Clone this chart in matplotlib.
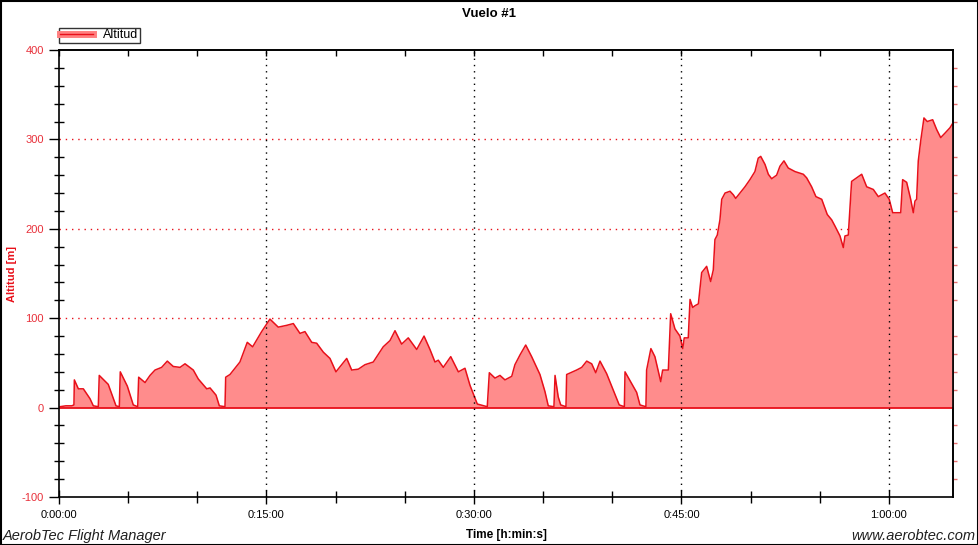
import matplotlib

matplotlib.use("Agg")
import matplotlib.pyplot as plt
from matplotlib.legend_handler import HandlerTuple
from matplotlib.lines import Line2D
from matplotlib.patches import Rectangle
from matplotlib.ticker import FuncFormatter, MultipleLocator

plt.rcParams["font.family"] = ["Liberation Sans", "DejaVu Sans"]
plt.rcParams["axes.unicode_minus"] = False

# --- datos: tiempo (minutos) y altitud (m) ---
t_min = [
    0.00, 0.07, 0.50, 0.92, 1.08, 1.11, 1.40, 1.76, 2.24, 2.48, 2.84,
    2.91, 3.56, 4.12, 4.36, 4.43, 4.94, 5.37, 5.69,
    5.76, 6.22, 6.58, 6.94, 7.42, 7.83, 8.26, 8.75, 9.11, 9.71, 10.07,
    10.68, 10.92, 11.35, 11.59, 12.00,
    12.05, 12.36, 13.08, 13.61, 14.00, 14.65, 15.25, 15.85, 16.46, 16.94,
    17.42, 17.78, 18.27, 18.63, 19.11, 19.59, 20.02, 20.44, 20.80, 21.16,
    21.64, 22.12, 22.72, 23.44, 23.93, 24.29, 24.77, 25.25, 25.86, 26.39,
    26.82, 27.18, 27.42, 27.78, 28.32, 28.87, 29.35, 29.71, 30.24, 30.96,
    31.11, 31.52, 31.88, 32.24, 32.73, 32.96, 33.33, 33.74, 34.17, 34.77,
    35.13, 35.37, 35.78,
    35.86, 36.09, 36.27, 36.65,
    36.70, 37.42, 37.79, 38.15, 38.51, 38.80, 39.11, 39.59, 40.03, 40.50,
    40.87,
    40.92, 41.40, 41.76, 42.00, 42.43,
    42.48, 42.79, 43.08, 43.50, 43.64, 44.05, 44.22, 44.53, 44.89, 45.09,
    45.20, 45.49, 45.62, 45.81, 45.98, 46.22, 46.46, 46.82, 47.11, 47.30,
    47.42, 47.59, 47.78, 47.91, 48.15, 48.51, 48.75, 48.92, 49.23, 49.59,
    49.95, 50.31, 50.55, 50.73, 51.04, 51.28, 51.52, 51.88, 52.12, 52.41,
    52.72, 53.21, 53.81, 54.05, 54.41, 54.72, 55.14, 55.54, 55.86, 56.10,
    56.46, 56.70, 56.82, 57.06, 57.30, 57.67, 58.03, 58.39, 58.87, 59.23,
    59.71, 60.02, 60.27, 60.85, 60.99, 61.28, 61.57, 61.76, 61.88, 62.00,
    62.12, 62.31, 62.53, 62.77, 63.16, 63.45, 63.74, 64.05, 64.41, 64.61,
]
alt_m = [
    0, 1, 2, 2, 3, 31, 21, 21, 10, 2, 1,
    36, 26, 2, 1, 40, 24, 3, 1,
    34, 28, 36, 42, 45, 52, 46, 45, 49, 42, 32,
    21, 22, 14, 2, 1,
    34, 37, 51, 73, 68, 85, 99, 90, 92, 94,
    83, 85, 73, 72, 62, 55, 40, 48, 55, 42,
    43, 48, 51, 68, 75, 86, 71, 78, 65, 80,
    65, 51, 53, 45, 57, 40, 44, 25, 4, 1,
    39, 33, 36, 31, 35, 48, 59, 70, 57, 37,
    18, 2, 1,
    36, 12, 3, 1,
    37, 42, 45, 52, 49, 39, 52, 38, 21, 3,
    1,
    40, 27, 17, 3, 1,
    42, 66, 57, 29, 42, 42, 105, 88, 80, 66,
    78, 78, 121, 112, 114, 116, 151, 158, 141, 154,
    188, 193, 210, 233, 240, 242, 238, 234, 240, 247,
    255, 264, 279, 281, 272, 261, 256, 260, 270, 276,
    268, 264, 261, 257, 247, 236, 233, 216, 210, 203,
    192, 179, 192, 193, 253, 257, 261, 247, 244, 236,
    240, 233, 218, 218, 255, 252, 233, 218, 231, 233,
    276, 300, 324, 320, 322, 311, 302, 307, 313, 318,
]

y_ticks = [-100, 0, 100, 200, 300, 400]
x_ticks = [0, 15, 30, 45, 60]

RED = "#e8101a"
FILL = "#ff8c8c"
LABEL_RED = "#e8303a"


def hms(x, pos=None):
    s = int(round(x * 60))
    return f"{s // 3600}:{(s % 3600) // 60:02d}:{s % 60:02d}"


fig = plt.figure(figsize=(9.79, 5.45), dpi=100)
ax = fig.add_axes([59 / 979, 48 / 545, 894 / 979, 447 / 545])

ax.fill_between(t_min, alt_m, 0, color=FILL, lw=0, zorder=2)
ax.plot(t_min, alt_m, color=RED, lw=1.1, zorder=3)
ax.axhline(0, color=RED, lw=1.3, zorder=3)

ax.set_xlim(0, 64.63)
ax.set_ylim(-100, 400)

# rejilla punteada: vertical negra, horizontal roja
for v in x_ticks[1:]:
    ax.axvline(v, color="black", lw=1, ls=(0, (1, 3.5)), zorder=4)
for h in y_ticks[2:-1]:
    ax.axhline(h, color=RED, lw=1, ls=(0, (1, 3.5)), zorder=1)

ax.set_xticks(x_ticks)
ax.xaxis.set_major_formatter(FuncFormatter(hms))
ax.xaxis.set_minor_locator(MultipleLocator(5))
ax.set_yticks(y_ticks)
ax.yaxis.set_minor_locator(MultipleLocator(20))

# eje X: ticks abajo cruzando el eje
ax.tick_params(axis="x", which="major", direction="inout", length=10,
               width=1, labelsize=8, pad=4)
ax.tick_params(axis="x", which="minor", direction="inout", length=8,
               width=1)
ax.tick_params(axis="y", which="major", direction="out", length=7,
               width=1, labelsize=8, labelcolor=LABEL_RED, pad=4)
ax.tick_params(axis="y", which="minor", direction="inout", length=7,
               width=1, color="black")

# ticks superiores (hacia dentro) y del lado derecho (rojos, hacia fuera)
top = ax.secondary_xaxis("top")
top.set_xticks(x_ticks)
top.xaxis.set_minor_locator(MultipleLocator(5))
top.tick_params(axis="x", which="both", direction="in", length=4, width=1,
                labeltop=False)
top.spines["top"].set_linewidth(1.2)

right = ax.secondary_yaxis("right")
right.set_yticks(y_ticks)
right.yaxis.set_minor_locator(MultipleLocator(20))
right.tick_params(axis="y", which="major", length=0, labelright=False)
right.tick_params(axis="y", which="minor", direction="out", length=3,
                  width=1, color="#e87070")
right.spines["right"].set_linewidth(1.2)

for side in ["left", "right", "top", "bottom"]:
    ax.spines[side].set_linewidth(1.2)
    ax.spines[side].set_zorder(5)

ax.set_ylabel("Altitud [m]", color=RED, fontsize=8, fontweight="bold")
ax.yaxis.set_label_coords(-0.047, 0.5)
ax.set_xlabel("Time [h:min:s]", fontsize=8.5, fontweight="bold")
ax.xaxis.set_label_coords(0.5, -0.072)

fig.text(0.5, 1 - 14 / 545, "Vuelo #1", ha="center", va="center",
         fontsize=9.5, fontweight="bold")
fig.text(3 / 979, 1 - 536 / 545, "AerobTec Flight Manager", ha="left",
         va="center", fontsize=10.5, style="italic", color="#202020")
fig.text(975 / 979, 1 - 536 / 545, "www.aerobtec.com", ha="right",
         va="center", fontsize=10.5, style="italic", color="#202020")

# leyenda: banda rosa con línea roja en el centro
band = Line2D([], [], color="#ff8080", lw=5)
core = Line2D([], [], color=RED, lw=1)
leg = ax.legend([(band, core)], ["Altitud"], loc="lower left",
                bbox_to_anchor=(0, 1.016), fontsize=9, frameon=True,
                fancybox=False, borderpad=0.12, handlelength=2.6,
                handletextpad=0.8, borderaxespad=0,
                handler_map={tuple: HandlerTuple(ndivide=1, pad=0)})
leg.get_frame().set_edgecolor("black")
leg.get_frame().set_linewidth(1)

# marco exterior
fig.patches.append(Rectangle((0.5 / 979, 0.5 / 545), 977.5 / 979, 543.5 / 545,
                             transform=fig.transFigure, fill=False,
                             edgecolor="black", lw=1.5))

fig.savefig("out.png", dpi=100)
